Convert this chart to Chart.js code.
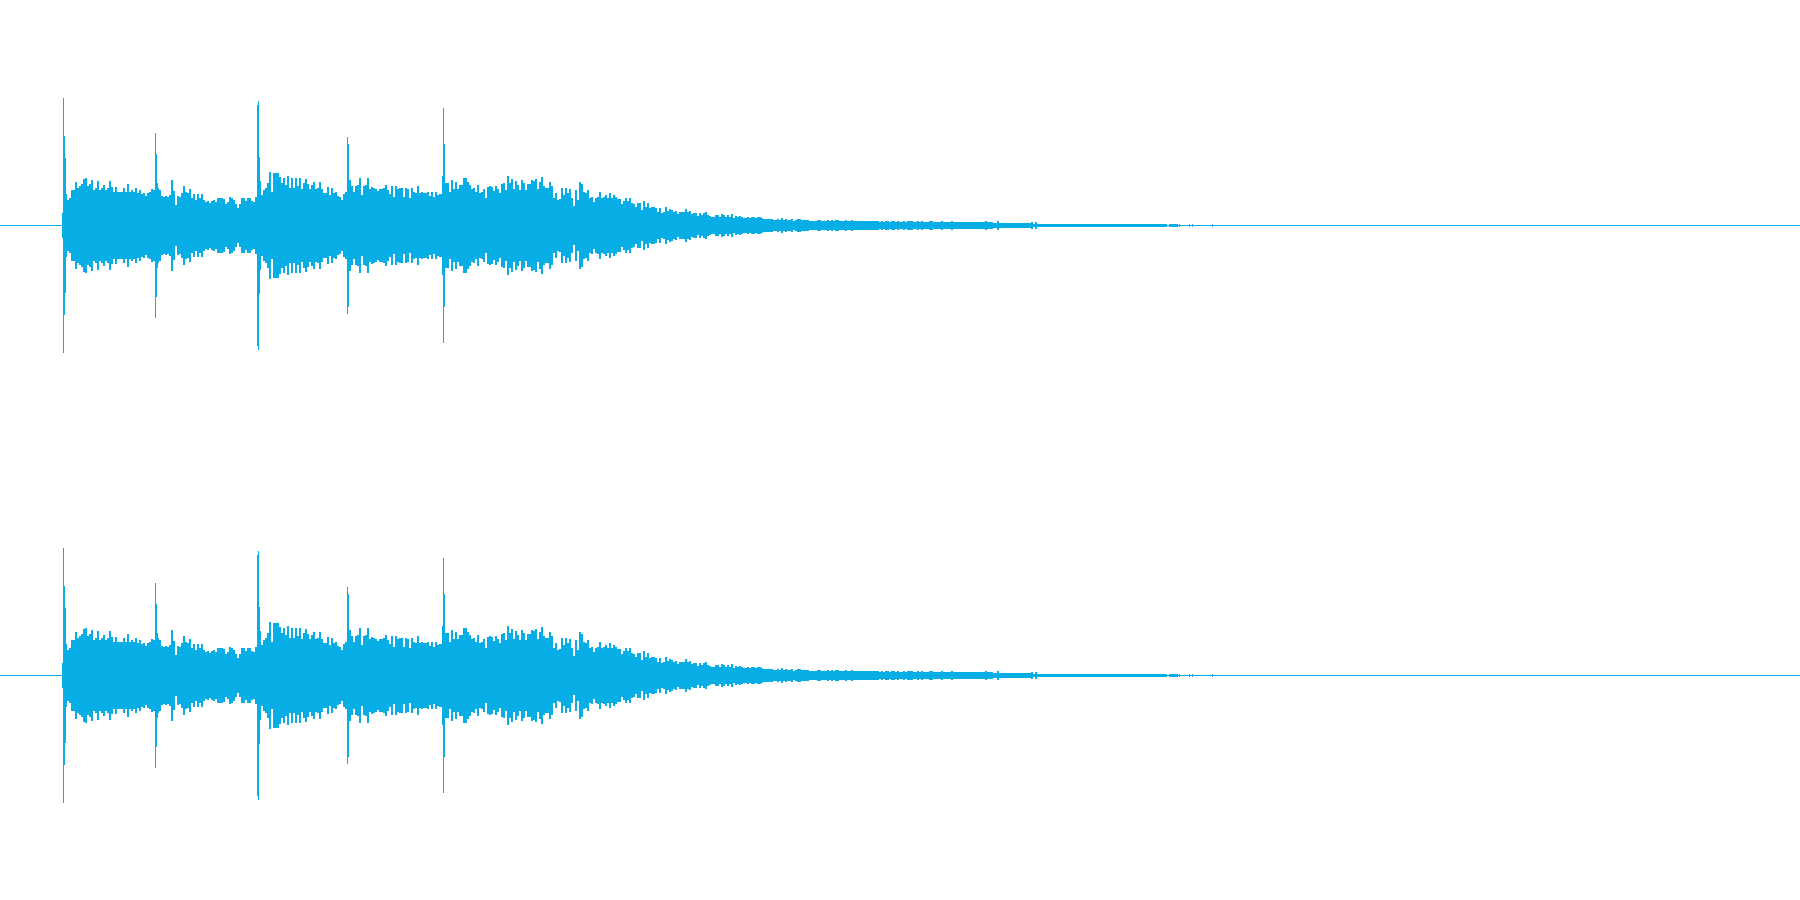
<!DOCTYPE html>
<html>
<head>
<meta charset="utf-8">
<title>Waveform</title>
<script src="https://cdn.jsdelivr.net/npm/chart.js@4"></script>
<style>
html, body { margin: 0; padding: 0; background: #fff; overflow: hidden; }
canvas { display: block; }
</style>
</head>
<body>
<canvas id="channelTop" width="1800" height="450"></canvas>
<canvas id="channelBottom" width="1800" height="450"></canvas>
<script>
// amplitudes, one value per two columns, each list says where it starts
var ampFrom67 = [25,27,35,35,43,37,39,41,46,47,39,41,45,35,37,44,35,37,40,35,37,44,38,33,38,33,33,33,37,33,41,33,35,33,37,32,35,31,32,29,32,33,36,35,36];
var ampFrom157 = [37,35,29,28,29,28,30,45,34,20,29,28,32,39,33,32,36,27,31,25,31,27,31,25,23,24,22,24,25,23,27,27,27,26,21,23,28,27,25,21,17,21,27,27,24,27,27,24,23,28];
var ampFrom257 = [30,44,30,35,37,42,53,33,52,52,52,48,42,47,40,49,37,47,37,47,39,47,36,42,46,41,36,40,43,36,37,43,36,32,32,38,30,37,32,33,29,28,25,31,33,36,45,39,33,39,40,47,30,39,40,47,36,38,37,36,34,36,36,37,40,35,31,39,28,39,36,37,37,28,37,36,27,37,33,32,39,32,33,32,32,33,29,33,28,33,30,31,31,28,42,42,33,45,36,43,36];
var ampFrom459 = [40,40,47,47,43,40,36,37,33,40,32,33,36,27,38,39,38,34,39,36,32,41,42,35,49,42,46,36,44,40,35,45,42,35,41,41,45,44,46,36,43,48,39,37,37,43,39,27,32,25,26,37,30,37,32,36,27,19,35,25,43,41,33,32,35,27,28,23,27,28,33,27,28,30,27,32,27,30,28,26,26,21,24,27,24,27,22,21,18,22,22,15,24,18,22,17,18,18,17,13];
var ampFrom659 = [17,12,13,18,14,16,15,13,14,11,13,13,13,16,13,14,11,12,12,9,12,10,12,13,10,9,8,8,10,10,8,11,10,8,10,8,11,7,9,8,9,8,7,7,8,7,8,8,7,8,8,7,6,6,6,6,6,5,5,6,5,7,5,6,5,5,6,4,5,6,6,5,5,5,5,4,4,4,4,5,5,4,4,4,5,4,5,4,5,5,4,4,4,5,4,4,5,4,4,4];
var ampFrom859 = [4,4,4,4,4,4,4,4,4,4,3,4,3,4,4,3,4,4,3,4,3,3,4,3,4,4,4,3,3,4,3,4,3,3,3,4,4,3,3,3,3,4,3,3,3,3,4,3,3,3,3,3,3,3,3,3,3,3,3,3,3,3,3,4,3,3,3,2,2,4,2,2,2,2,2,2,2,2,2,2,2,2,2,2,2,2,3,1,3];
var ampFrom1037 = [1,1,1,1,1,1,1,1,1,1,1,1,1,1,1,1,1,1,1,1,1,1,1,1,1,1,1,1,1,1,1,1,1,1,1,1,1,1,1,1,1,1,1,1,1,1,1,1,1,1,1,1,1,1,1,1,1,1,1,1,1,1,1,1,1,0,1,1,1,1];

// single columns: the onset, the four hits and the last specks of the tail
var peakColumns = [62,63,64,65,66,155,156,157,257,258,259,260,347,348,349,442,443,444,1173,1177,1179,1189,1192,1212];
var peakAmps = [12,127,89,67,31,92,71,42,120,124,68,44,88,81,44,49,117,81,1,1,1,1,1,1];

var lineEnds = [0, 1800];
var waveColor = '#07aee6';

function construirColumnas() {
    var segmentos = [[67, ampFrom67], [157, ampFrom157], [257, ampFrom257], [459, ampFrom459], [659, ampFrom659], [859, ampFrom859], [1037, ampFrom1037]];
    var columnas = [];
    segmentos.forEach(function(seg) {
        seg[1].forEach(function(amp, i) {
            columnas.push({ x: seg[0] + 2 * i + 1, y: [-amp - 0.5, amp + 0.5] });
        });
    });
    return columnas;
}

function dibujarCanal(idCanvas) {
    var ctx = document.getElementById(idCanvas).getContext('2d');
    new Chart(ctx, {
        type: 'bar',
        data: {
            datasets: [
                {
                    type: 'line',
                    data: lineEnds.map(function(x) { return { x: x, y: 0 }; }),
                    borderColor: waveColor,
                    borderWidth: 1,
                    pointRadius: 0
                },
                {
                    stack: 'onda',
                    data: construirColumnas(),
                    backgroundColor: waveColor,
                    barThickness: 2,
                    inflateAmount: 0
                },
                {
                    stack: 'onda',
                    data: peakColumns.map(function(x, i) {
                        return { x: x + 0.5, y: [-peakAmps[i] - 0.5, peakAmps[i] + 0.5] };
                    }),
                    backgroundColor: waveColor,
                    barThickness: 1,
                    inflateAmount: 0
                }
            ]
        },
        options: {
            responsive: false,
            animation: false,
            devicePixelRatio: 1,
            layout: { padding: 0 },
            plugins: { legend: { display: false }, tooltip: { enabled: false } },
            scales: {
                x: { type: 'linear', min: 0, max: 1800, offset: false, display: false },
                y: { type: 'linear', min: -224.5, max: 225.5, stacked: false, display: false }
            }
        }
    });
}

dibujarCanal('channelTop');
dibujarCanal('channelBottom');
</script>
</body>
</html>
